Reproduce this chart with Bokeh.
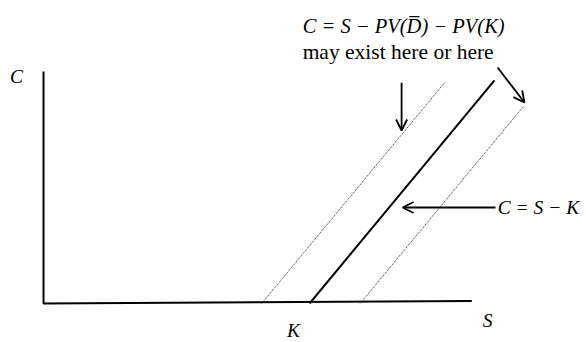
from bokeh.plotting import figure
from bokeh.models import Range1d, Arrow, OpenHead
from bokeh.core.properties import value
from bokeh.embed import file_html
from bokeh.resources import INLINE

# ---- data (abstract units: S on x, C on y) ----
K = 10.0
s_axis_end = 16.1
c_axis_end = 7.23
solid_end = 16.95
low_start, low_end = 8.2, 15.1      # S - PV(D) - PV(K) candidate (left)
high_start, high_end = 11.9, 18.05  # candidate (right)

axis_x = [0, 0, s_axis_end]
axis_y = [c_axis_end, 0, 0.08]

solid_x = [K, solid_end]
solid_y = [0, solid_end - K]
low_x = [low_start, low_end]
low_y = [0, low_end - low_start]
high_x = [high_start, high_end]
high_y = [0, high_end - high_start]

italic_labels = ["C", "K", "S", "C = S \u2212 K"]
italic_lx = [-1.02, 9.4, 16.69, 17.07]
italic_ly = [7.07, -0.84, -0.53, 2.99]
italic_align = ["center", "center", "center", "left"]

title_text = ["C = S \u2212 PV(D\u0305) \u2212 PV(K)"]
title_x = [9.74]
title_y = [8.66]

note_text = ["may exist here or here"]
note_x = [9.74]
note_y = [7.85]

# arrows: (x_start, y_start, x_end, y_end)
arrows = [
    (13.46, 6.88, 13.46, 5.39),
    (17.07, 7.35, 18.08, 6.26),
    (16.99, 2.99, 13.5, 2.99),
]

p = figure(width=586, height=342, output_backend="svg", toolbar_location=None,
           x_range=Range1d(-1.617, 20.41), y_range=Range1d(-1.215, 9.439),
           x_axis_location=None, y_axis_location=None, min_border=0)
p.grid.visible = False
p.outline_line_color = None
p.background_fill_color = "white"

p.line(axis_x, axis_y, line_color="black", line_width=2)
p.line(solid_x, solid_y, line_color="black", line_width=2)
p.line(low_x, low_y, line_color="#222222", line_width=1, line_dash="1 1")
p.line(high_x, high_y, line_color="#222222", line_width=1, line_dash="1 1")

font = value("Liberation Serif")
p.text(x=italic_lx, y=italic_ly, text=italic_labels, text_font=font,
       text_font_style="italic", text_font_size="19.5px",
       text_align=italic_align, text_baseline="middle", text_color="black")
p.text(x=title_x, y=title_y, text=title_text, text_font=font,
       text_font_style="italic", text_font_size="20.5px",
       text_align="left", text_baseline="middle", text_color="black")
p.text(x=note_x, y=note_y, text=note_text, text_font=font,
       text_font_size="21.5px",
       text_align="left", text_baseline="middle", text_color="black")

for xs, ys, xe, ye in arrows:
    p.add_layout(Arrow(end=OpenHead(size=11, line_width=1.8, line_color="black"),
                       x_start=xs, y_start=ys, x_end=xe, y_end=ye,
                       line_width=1.8, line_color="black"))

open("out.html", "w").write(file_html(p, INLINE))
